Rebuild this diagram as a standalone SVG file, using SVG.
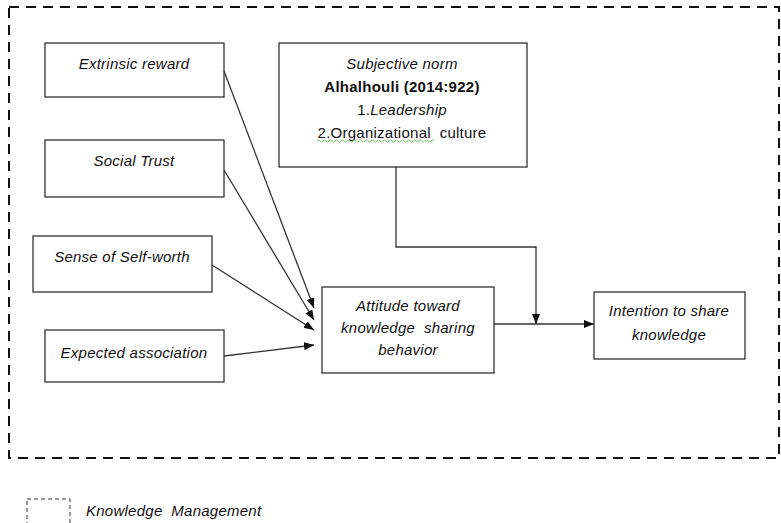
<svg xmlns="http://www.w3.org/2000/svg" width="781" height="523" viewBox="0 0 781 523">
<style>
.box{fill:#fff;stroke:#222;stroke-width:1.2}
.t{font-family:"Liberation Sans",Arial,sans-serif;font-size:15px;fill:#111;text-anchor:middle;letter-spacing:0.25px}
.i{font-style:italic}
.b{font-weight:bold}
.c{fill:none;stroke:#333;stroke-width:1.3}
.dash{fill:none;stroke:#111;stroke-width:2;stroke-dasharray:10 7}
</style>
<defs>
<marker id="ah" markerWidth="10" markerHeight="8" refX="10" refY="4" orient="auto" markerUnits="userSpaceOnUse">
<path d="M0,0 L10,4 L0,8 Z" fill="#111"/>
</marker>
</defs>
<rect width="781" height="523" fill="#fff"/>
<rect id="km-boundary" class="dash" x="9" y="7" width="770" height="451"/>

<g id="extrinsic-reward">
<rect class="box" x="45" y="43" width="179" height="54"/>
<text class="t i" x="134" y="69">Extrinsic reward</text>
</g>
<g id="social-trust">
<rect class="box" x="45" y="140" width="179" height="57"/>
<text class="t i" x="134" y="166">Social Trust</text>
</g>
<g id="self-worth">
<rect class="box" x="33" y="236" width="179" height="56"/>
<text class="t i" x="122" y="262">Sense of Self-worth</text>
</g>
<g id="expected-association">
<rect class="box" x="45" y="330" width="179" height="52"/>
<text class="t i" x="134" y="358">Expected association</text>
</g>
<g id="subjective-norm">
<rect class="box" x="279" y="43" width="248" height="124"/>
<text class="t i" x="402" y="69">Subjective norm</text>
<text class="t b" x="402" y="92">Alhalhouli (2014:922)</text>
<text class="t" x="402" y="115">1.<tspan class="i">Leadership</tspan></text>
<text class="t" x="402" y="138" xml:space="preserve">2.Organizational  culture</text>
<path d="M317,141 q1.5,-2 3,0 t3,0 t3,0 t3,0 t3,0 t3,0 t3,0 t3,0 t3,0 t3,0 t3,0 t3,0 t3,0 t3,0 t3,0 t3,0 t3,0 t3,0 t3,0 t3,0 t3,0 t3,0 t3,0 t3,0 t3,0 t3,0 t3,0 t3,0 t3,0 t3,0 t3,0 t3,0 t3,0 t3,0 t3,0 t3,0 t3,0 t3,0 t3,0" fill="none" stroke="#6dbb5a" stroke-width="0.9"/>
</g>
<g id="attitude">
<rect class="box" x="322" y="287" width="172" height="86"/>
<text class="t i" x="408" y="311">Attitude toward</text>
<text class="t i" x="408" y="333" xml:space="preserve">knowledge  sharing</text>
<text class="t i" x="408" y="355">behavior</text>
</g>
<g id="intention">
<rect class="box" x="594" y="292" width="151" height="67"/>
<text class="t i" x="669" y="316">Intention to share</text>
<text class="t i" x="669" y="340">knowledge</text>
</g>

<g id="connectors">
<line class="c" x1="224" y1="71" x2="314" y2="308" marker-end="url(#ah)"/>
<line class="c" x1="224" y1="170" x2="314" y2="320" marker-end="url(#ah)"/>
<line class="c" x1="212" y1="265" x2="314" y2="330" marker-end="url(#ah)"/>
<line class="c" x1="224" y1="356" x2="314" y2="345" marker-end="url(#ah)"/>
<line class="c" x1="494" y1="324" x2="594" y2="324" marker-end="url(#ah)"/>
<polyline class="c" points="396,167 396,247 536,247 536,324" marker-end="url(#ah)"/>
</g>

<g id="legend">
<rect x="27" y="499" width="43" height="30" fill="none" stroke="#333" stroke-width="1" stroke-dasharray="4 3"/>
<text class="t i" x="86" y="516" style="text-anchor:start" xml:space="preserve">Knowledge  Management</text>
</g>
</svg>
